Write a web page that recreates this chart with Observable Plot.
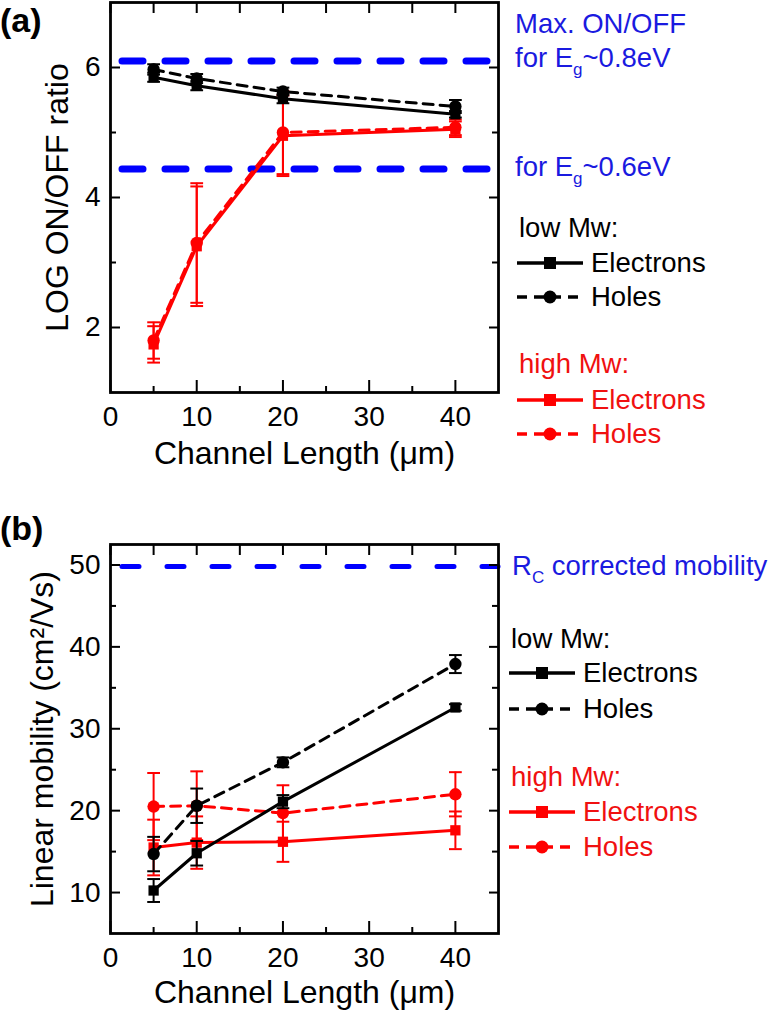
<!DOCTYPE html>
<html><head><meta charset="utf-8">
<script src="https://cdn.jsdelivr.net/npm/d3@7"></script>
<script src="https://cdn.jsdelivr.net/npm/@observablehq/plot@0.6"></script>
<style>
body{margin:0;background:#fff;font-family:"Liberation Sans",Arial,sans-serif;}
#root{position:relative;width:770px;height:1012px;overflow:hidden;background:#fff;}
.panel{position:absolute;left:0;}
#overlay{position:absolute;left:0;top:0;pointer-events:none;}
</style></head><body><div id="root"></div><script>
// ---- data ----
const lengths = [5, 10, 20, 40];
// panel (a): LOG ON/OFF ratio
const onoffLowE = [5.85, 5.72, 5.52, 5.28];
const onoffLowEErr = [0.07, 0.07, 0.07, 0.05];
const onoffLowH = [5.97, 5.83, 5.63, 5.40];
const onoffLowHErr = [0.08, 0.07, 0.06, 0.10];
const onoffHighE = [1.74, 3.25, 4.95, 5.05];
const onoffHighEErr = [0.28, 0.92, 0.62, 0.12];
const onoffHighH = [1.80, 3.30, 5.00, 5.08];
const onoffHighHErr = [0.28, 0.92, 0.64, 0.12];
const onoffRefs = [6.10, 4.44];
// panel (b): linear mobility
const mobLowE = [10.25, 14.8, 21.1, 32.6];
const mobLowEErr = [1.4, 1.5, 0.8, 0.4];
const mobLowH = [14.7, 20.6, 25.9, 37.9];
const mobLowHErr = [2.1, 2.1, 0.6, 1.1];
const mobHighE = [15.5, 16.1, 16.2, 17.6];
const mobHighEErr = [3.4, 3.2, 2.45, 2.3];
const mobHighH = [20.5, 20.6, 19.7, 22.0];
const mobHighHErr = [4.1, 4.2, 3.4, 2.7];
const mobRefs = [49.8];
// ticks
const xMajor = [0, 10, 20, 30, 40];
const xMinor = [5, 15, 25, 35];
const yMajorA = [2, 4, 6], yMinorA = [3, 5];
const yMajorB = [10, 20, 30, 40, 50], yMinorB = [15, 25, 35, 45];

const BLUE = "#0000ff", BLUE_T = "#1a1ae0", RED = "#ff0000", RED_T = "#f01010", BLACK = "#000";
const FONT = "'Liberation Sans', Arial, sans-serif";

function rows(ys, errs) {
  return lengths.map((x, i) => ({x, y: ys[i], lo: ys[i] - errs[i], hi: ys[i] + errs[i]}));
}
const hbar = {draw(ctx, size) { const w = Math.sqrt(size) / 2; ctx.moveTo(-w, 0); ctx.lineTo(w, 0); }};

function seriesMarks(data, color, dashed, symbol) {
  const lineOpts = {x: "x", y: "y", stroke: color, strokeWidth: 3};
  if (dashed) lineOpts.strokeDasharray = "10,7";
  return [
    Plot.line(data, lineOpts),
    Plot.ruleX(data, {x: "x", y1: "lo", y2: "hi", stroke: color, strokeWidth: 2}),
    Plot.dot(data, {x: "x", y: "lo", symbol: hbar, r: 7.2, stroke: color, strokeWidth: 2}),
    Plot.dot(data, {x: "x", y: "hi", symbol: hbar, r: 7.2, stroke: color, strokeWidth: 2}),
    Plot.dot(data, {x: "x", y: "y", symbol, r: symbol === "square" ? 5.8 : 6.2, fill: color, stroke: "none"})
  ];
}

const fmt = d => String(d);
function axes(yMajor, yMinor) {
  const common = {label: null, strokeWidth: 2};
  return [
    Plot.axisX(xMajor, {anchor: "bottom", tickSize: 0, tickPadding: 14, fontSize: 28, label: null, tickFormat: fmt}),
    Plot.axisY(yMajor, {anchor: "left", tickSize: 0, tickPadding: 10, fontSize: 28, label: null, tickFormat: fmt}),
    Plot.axisX(xMajor, {...common, anchor: "bottom", tickSize: -12, text: null}),
    Plot.axisX(xMinor, {...common, anchor: "bottom", tickSize: -6, text: null}),
    Plot.axisX(xMajor, {...common, anchor: "top", tickSize: -10, text: null}),
    Plot.axisX(xMinor, {...common, anchor: "top", tickSize: -10, text: null}),
    Plot.axisY(yMajor, {...common, anchor: "left", tickSize: -10, text: null}),
    Plot.axisY(yMinor, {...common, anchor: "left", tickSize: -6, text: null}),
    Plot.axisY(yMajor, {...common, anchor: "right", tickSize: -10, text: null}),
    Plot.axisY(yMinor, {...common, anchor: "right", tickSize: -7, text: null})
  ];
}

function panel({series, refs, refWidth, refDash, yDomain, yMajor, yMinor, height, marginTop, marginBottom, yLabel, xLabelDy, yLabelDx}) {
  return Plot.plot({
    width: 770, height, marginLeft: 110, marginRight: 272, marginTop, marginBottom,
    style: {fontFamily: FONT, background: "transparent", overflow: "visible", color: "#000"},
    x: {domain: [0, 45]},
    y: {domain: yDomain},
    marks: [
      Plot.ruleY(refs, {stroke: BLUE, strokeWidth: refWidth, strokeDasharray: refDash, strokeLinecap: "round", strokeDashoffset: -12}),
      ...series,
      ...axes(yMajor, yMinor),
      Plot.frame({strokeWidth: 2.8}),
      Plot.text(["Channel Length (μm)"], {frameAnchor: "bottom", dy: xLabelDy, fontSize: 32, textAnchor: "middle", lineAnchor: "middle"}),
      Plot.text([yLabel], {frameAnchor: "left", dx: yLabelDx, rotate: -90, fontSize: 32, textAnchor: "middle", lineAnchor: "middle"})
    ]
  });
}

const root = document.getElementById("root");

const chartA = panel({
  series: [
    ...seriesMarks(rows(onoffHighH, onoffHighHErr), RED, true, "circle"),
    ...seriesMarks(rows(onoffHighE, onoffHighEErr), RED, false, "square"),
    ...seriesMarks(rows(onoffLowH, onoffLowHErr), BLACK, true, "circle"),
    ...seriesMarks(rows(onoffLowE, onoffLowEErr), BLACK, false, "square")
  ],
  refs: onoffRefs, refWidth: 7, refDash: "21,22",
  yDomain: [1, 7], yMajor: yMajorA, yMinor: yMinorA,
  height: 472, marginTop: 2, marginBottom: 80,
  yLabel: "LOG ON/OFF ratio", xLabelDy: 61, yLabelDx: -53
});
chartA.classList.add("panel"); chartA.style.top = "0px";
root.appendChild(chartA);

const TOP_B = 500;
const chartB = panel({
  series: [
    ...seriesMarks(rows(mobHighH, mobHighHErr), RED, true, "circle"),
    ...seriesMarks(rows(mobHighE, mobHighEErr), RED, false, "square"),
    ...seriesMarks(rows(mobLowH, mobLowHErr), BLACK, true, "circle"),
    ...seriesMarks(rows(mobLowE, mobLowEErr), BLACK, false, "square")
  ],
  refs: mobRefs, refWidth: 5, refDash: "17,28",
  yDomain: [5, 52.5], yMajor: yMajorB, yMinor: yMinorB,
  height: 512, marginTop: 44, marginBottom: 79,
  yLabel: "Linear mobility (cm²/Vs)", xLabelDy: 59, yLabelDx: -68
});
chartB.classList.add("panel"); chartB.style.top = TOP_B + "px";
root.appendChild(chartB);

// ---- annotations & legends ----
const svg = d3.select(root).append("svg").attr("id", "overlay")
  .attr("width", 770).attr("height", 1012)
  .style("font-family", FONT);

svg.append("text").attr("x", 0).attr("y", 32).attr("font-size", 34).attr("font-weight", "bold").text("(a)");
svg.append("text").attr("x", 0).attr("y", 540).attr("font-size", 34).attr("font-weight", "bold").text("(b)");

const yA = v => chartA.scale("y").apply(v);
const yB = v => TOP_B + chartB.scale("y").apply(v);

function subText(x, y, parts, color, size) {
  const t = svg.append("text").attr("x", x).attr("y", y).attr("font-size", size).attr("fill", color);
  let shifted = false;
  parts.forEach(([s, sub]) => {
    if (sub) { t.append("tspan").attr("dy", 8).attr("font-size", size * 0.62).text(s); shifted = true; }
    else { t.append("tspan").attr("dy", shifted ? -8 : 0).text(s); shifted = false; }
  });
  return t;
}

svg.append("text").attr("x", 515).attr("y", yA(onoffRefs[0]) - 28).attr("font-size", 27.5).attr("fill", BLUE_T).text("Max. ON/OFF");
subText(515, yA(onoffRefs[0]) + 6, [["for E"], ["g", true], ["~0.8eV"]], BLUE_T, 27.5);
subText(515, yA(onoffRefs[1]) + 8, [["for E"], ["g", true], ["~0.6eV"]], BLUE_T, 27.5);
subText(512, yB(mobRefs[0]) + 9, [["R"], ["C", true], [" corrected mobility"]], BLUE_T, 27.5);

function legend(x0, yTitleLow, rowsY, textX) {
  const [yLowE, yLowH, yHighTitle, yHighE, yHighH] = rowsY;
  const items = [
    {y: yLowE, color: BLACK, dashed: false, sym: "square", label: "Electrons", tcol: BLACK},
    {y: yLowH, color: BLACK, dashed: true, sym: "circle", label: "Holes", tcol: BLACK},
    {y: yHighE, color: RED, dashed: false, sym: "square", label: "Electrons", tcol: RED_T},
    {y: yHighH, color: RED, dashed: true, sym: "circle", label: "Holes", tcol: RED_T}
  ];
  svg.append("text").attr("x", x0 + 2).attr("y", yTitleLow).attr("font-size", 27.5).attr("fill", BLACK).text("low Mw:");
  svg.append("text").attr("x", x0 + 2).attr("y", yHighTitle).attr("font-size", 27.5).attr("fill", RED_T).text("high Mw:");
  items.forEach(it => {
    svg.append("line").attr("x1", x0).attr("x2", x0 + 66).attr("y1", it.y).attr("y2", it.y)
      .attr("stroke", it.color).attr("stroke-width", 3.5)
      .attr("stroke-dasharray", it.dashed ? "10,7" : null);
    if (it.sym === "square") svg.append("rect").attr("x", x0 + 33 - 6).attr("y", it.y - 6).attr("width", 12).attr("height", 12).attr("fill", it.color);
    else svg.append("circle").attr("cx", x0 + 33).attr("cy", it.y).attr("r", 6.5).attr("fill", it.color);
    svg.append("text").attr("x", textX).attr("y", it.y + 9).attr("font-size", 27.5).attr("fill", it.tcol).text(it.label);
  });
}
legend(517, 237, [263, 297, 373, 400, 434], 591);
legend(509, 648, [673, 709, 786, 812, 847], 583);
</script></body></html>
